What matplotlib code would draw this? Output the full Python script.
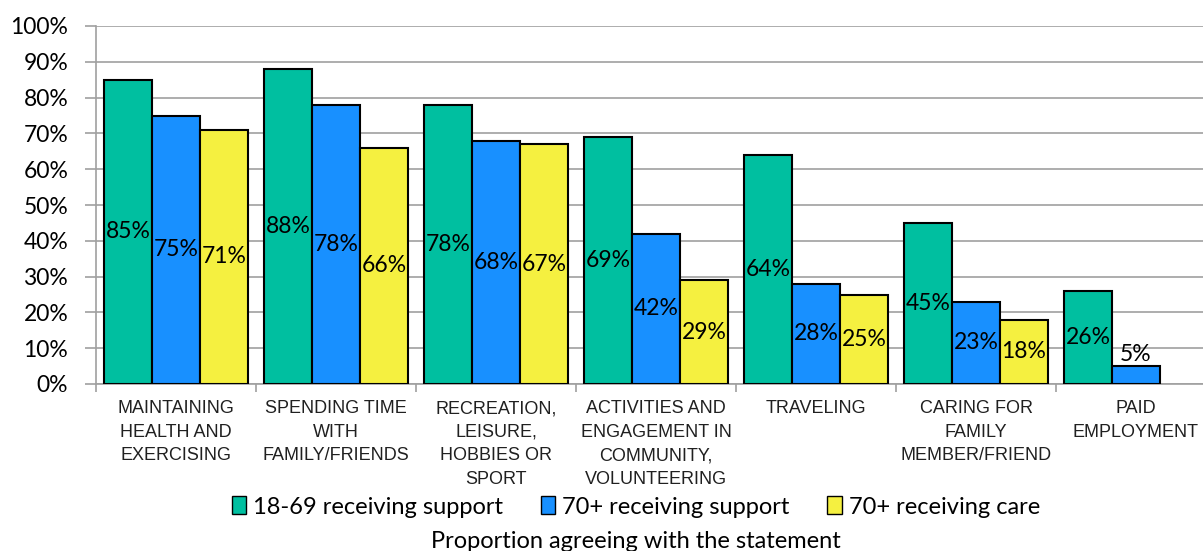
import matplotlib.pyplot as plt
import numpy as np
from matplotlib.patches import Patch

categories = ["MAINTAINING\nHEALTH AND\nEXERCISING", "SPENDING TIME\nWITH\nFAMILY/FRIENDS",
              "RECREATION,\nLEISURE,\nHOBBIES OR\nSPORT", "ACTIVITIES AND\nENGAGEMENT IN\nCOMMUNITY,\nVOLUNTEERING",
              "TRAVELING", "CARING FOR\nFAMILY\nMEMBER/FRIEND", "PAID\nEMPLOYMENT"]
series_names = ["18-69 receiving support", "70+ receiving support", "70+ receiving care"]
young_support = [85, 88, 78, 69, 64, 45, 26]
old_support = [75, 78, 68, 42, 28, 23, 5]
old_care = [71, 66, 67, 29, 25, 18, None]
colors = ["#00BFA0", "#1890FF", "#F5F040"]

label_font = ["Lato", "DejaVu Sans"]
cat_font = ["Liberation Sans Narrow", "Liberation Sans", "DejaVu Sans"]

fig = plt.figure(figsize=(12.03, 5.51), dpi=100)
W, H = 1203, 551
# plot area: x 96..1216 px (last group runs off the right edge), y 26..384 px
ax = fig.add_axes([96 / W, 1 - 384 / H, 1120 / W, 358 / H])

x = np.arange(len(categories))
bw = 0.3
for k, vals in enumerate([young_support, old_support, old_care]):
    for i, v in enumerate(vals):
        if v is None:
            continue
        xp = x[i] + (k - 1) * bw
        ax.bar(xp, v, width=bw, color=colors[k], edgecolor="black", linewidth=1.5, zorder=3)
        if v >= 10:
            ax.text(xp, v / 2, f"{v}%", ha="center", va="center", fontsize=16.5, family=label_font, zorder=4)
        else:
            ax.text(xp, v + 0.3, f"{v}%", ha="center", va="bottom", fontsize=16.5, family=label_font, zorder=4)

ax.set_xlim(-0.5, len(categories) - 0.5)
ax.set_ylim(0, 100)
ax.set_yticks(range(0, 101, 10))
ax.set_yticklabels([f"{t}%" for t in range(0, 101, 10)], fontsize=16.5, family=label_font)
ax.yaxis.grid(True, color="#A0A0A0", linewidth=1.2, zorder=0)
ax.tick_params(axis="y", length=8, color="#A0A0A0", width=1.2, pad=12)

ax.set_xticks(np.arange(-0.5, len(categories), 1), minor=False)
ax.set_xticklabels([])
ax.tick_params(axis="x", length=6, color="#A0A0A0", width=1.2)
for i, c in enumerate(categories):
    ax.text(x[i], -4.5, c, ha="center", va="top", fontsize=13, family=cat_font,
            linespacing=1.5, color="#202020")

for s in ["top", "right"]:
    ax.spines[s].set_visible(False)
for s in ["left", "bottom"]:
    ax.spines[s].set_color("#A0A0A0")
    ax.spines[s].set_linewidth(1.2)

handles = [Patch(facecolor=colors[k], edgecolor="black", label=series_names[k]) for k in range(3)]
fig.legend(handles=handles, loc="center", bbox_to_anchor=(636 / W, 1 - 507 / H), ncol=3, frameon=False,
           prop={"family": label_font, "size": 17}, handlelength=0.6, handleheight=0.8,
           handletextpad=0.3, columnspacing=1.6, borderaxespad=0)
fig.text(636 / W, 1 - 541 / H, "Proportion agreeing with the statement", ha="center", va="center",
         fontsize=17, family=label_font)

fig.savefig("out.png", dpi=100)
